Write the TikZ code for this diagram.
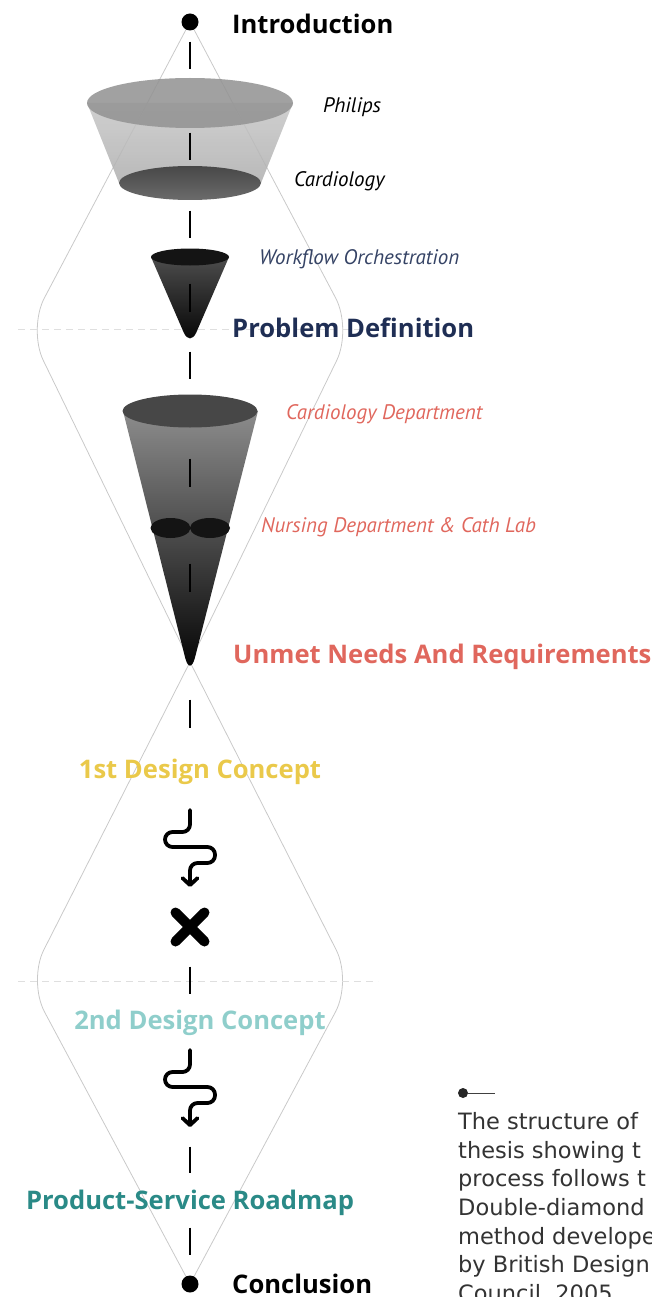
\documentclass[tikz,border=0pt]{standalone}
\usepackage{fontspec}
\setmainfont{PT Sans}
\newfontfamily\headfont{Open Sans}
\newfontfamily\notefont{DejaVu Sans}
\usetikzlibrary{positioning}
\usetikzlibrary{arrows.meta}
\definecolor{navy}{HTML}{1F2E54}
\definecolor{salmon}{HTML}{E0675D}
\definecolor{sun}{HTML}{EAC94A}
\definecolor{mint}{HTML}{8FCECB}
\definecolor{roadteal}{HTML}{2A8A87}
\definecolor{rim}{HTML}{C9C9C9}

\begin{document}
\begin{tikzpicture}[x=1pt,y=-1pt,>=latex,
	dot/.style={circle,fill=black,inner sep=0pt,minimum size=17pt},
	rimline/.style={draw=rim,line width=0.8pt,rounded corners=35pt},
	split/.style={draw=rim!60,line width=0.7pt,dash pattern=on 7pt off 5pt},
	head/.style={font=\headfont\bfseries\fontsize{25.6}{25.6}\selectfont,anchor=base west,inner sep=0pt},
	sub/.style={font=\itshape\fontsize{21}{21}\selectfont,anchor=base west,inner sep=0pt},
	wiggle/.style={line width=3.8pt,rounded corners=7.5pt,line cap=round,line join=round}]
			\useasboundingbox (0,0) rectangle (651,1297);
			\clip (0,0) rectangle (651,1297);
			\foreach \t/\m/\b in {22/329/662,662/981/1284}
				\draw[rimline] (190,\t) -- (28,\m) -- (190,\b) (190,\t) -- (352,\m) -- (190,\b);
			\draw[split] (18,329) -- (378,329);
			\draw[split] (18,981) -- (378,981);
			\shade[top color=black!22,bottom color=black!32,opacity=0.85] (87,103) -- (119,183) -- (261,183) -- (293,103) -- cycle;
			\fill[black!42,fill opacity=0.88] (190,103) ellipse [x radius=103,y radius=25];
			\shade[top color=black!72,bottom color=black!58] (190,183) ellipse [x radius=71,y radius=17];
			\shade[top color=black!70,bottom color=black] (151,257) [rounded corners=16pt] -- (190,347) [sharp corners] -- (229,257) -- cycle;
			\fill[black!92] (190,257) ellipse [x radius=39,y radius=8.5];
			\shade[top color=black!45,middle color=black!77,bottom color=black] (123,411) [rounded corners=20pt] -- (190,677) [sharp corners] -- (258,411) -- cycle;
			\fill[black!72] (190,411) ellipse [x radius=67.5,y radius=16.5];
			\fill[black!92] (170.5,528) ellipse [x radius=20,y radius=10] (210,528) ellipse [x radius=20,y radius=10];
			\node[dot] (top) at (190,22) {};
			\node[dot] (bottom) at (190,1284) {};
			\draw[line width=2.8pt,dash pattern=on 0pt off 11pt on 27pt off 64pt on 27pt off 51pt on 27pt off 46pt on 28pt off 40pt on 27pt off 80pt on 28pt off 77pt on 28pt off 108pt on 28pt off 239pt on 27pt off 153pt on 26pt off 55pt on 27pt off 100pt] (top) -- (bottom);
			\foreach \s in {0,240}
				\draw[wiggle,shift={(0,\s)},-{Straight Barb[length=7pt,width=15pt,round]}] (190,810) -- (190,832) -- (165,832) -- (165,847) -- (215,847) -- (215,863) -- (190,863) -- (190,887);
			\draw[line width=10pt,line cap=round] (175.5,912.5) -- (204.5,941.5) (175.5,941.5) -- (204.5,912.5);
			\node[head] (intro) at (232,34) {Introduction};
			\node[sub] (philips) at (323,113) {Philips};
			\node[sub] (cardio) at (294,187) {Cardiology};
			\node[sub,text=navy!90] (flow) at (259,264) {Workflow Orchestration};
			\node[head,text=navy] (problem) at (232,337) {Problem Definition};
			\node[sub,text=salmon] (dept) at (286,419) {Cardiology Department};
			\node[sub,text=salmon] (nurse) at (261,532) {Nursing Department \& Cath Lab};
			\node[head,text=salmon] (unmet) at (233,663) {Unmet Needs And Requirements};
			\node[head,text=sun,anchor=base] (first) at (200,778) {1st Design Concept};
			\node[head,text=mint,anchor=base] (second) at (200,1029) {2nd Design Concept};
			\node[head,text=roadteal,anchor=base] (roadmap) at (190,1209) {Product-Service Roadmap};
			\node[head] (concl) at (232,1293) {Conclusion};
			\node[circle,fill=black!85,inner sep=0pt,minimum size=10pt] (note) at (463,1093) {};
			\coordinate (noteend) at (495,1093);
			\draw[black!75,line width=1pt] (note) -- (noteend);
			\node[anchor=north west,inner sep=0pt,align=left,text=black!80,font=\notefont\fontsize{22.5}{28.7}\selectfont] (notetext) at (458,1112) {The structure of\\thesis showing t\\process follows t\\Double-diamond\\method developed\\by British Design\\Council, 2005.};
		\end{tikzpicture}
\end{document}
